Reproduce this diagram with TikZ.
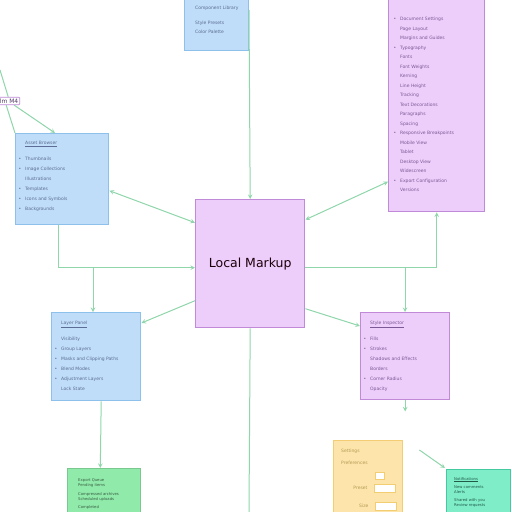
\documentclass[tikz,border=0pt]{standalone}
\usepackage{fontspec}
\setsansfont{DejaVu Sans}
\usetikzlibrary{positioning,calc}

\definecolor{bluefill}{HTML}{BFDDF8}
\definecolor{blueline}{HTML}{8EC0EC}
\definecolor{purpfill}{HTML}{EDCDF9}
\definecolor{purpline}{HTML}{C08AD8}
\definecolor{linkgreen}{HTML}{8FD6AA}
\definecolor{greenfill}{HTML}{90EAAA}
\definecolor{yelfill}{HTML}{FCE4AA}
\definecolor{yelline}{HTML}{F3CD72}
\definecolor{tealfill}{HTML}{80EDC9}
\definecolor{tealline}{HTML}{44C9A1}
\definecolor{bluetext}{HTML}{5C6C94}
\definecolor{purptext}{HTML}{7A5A96}

\tikzset{
  panel/.style={draw, line width=1.4pt, anchor=north west, inner sep=0pt},
  bluepanel/.style={panel, fill=bluefill, draw=blueline},
  purppanel/.style={panel, fill=purpfill, draw=purpline},
  link/.style={draw=linkgreen, line width=1pt, >=stealth},
  boxtext/.style={font=\sffamily\fontsize{4.5}{10}\selectfont, align=left, anchor=north west, inner sep=0pt},
}
\newcommand{\bul}{\llap{\textbullet\hspace{4pt}}}

\begin{document}
\begin{tikzpicture}[x=1pt,y=-1pt]
  \useasboundingbox[fill=white] (0,0) rectangle (512,512);

  % Panels
  \node[bluepanel, minimum width=64pt, minimum height=60pt] (top) at (184,-10) {};
  \node[purppanel, minimum width=96pt, minimum height=221pt] (rt) at (388,-10) {};
  \node[bluepanel, minimum width=93pt, minimum height=91pt] (lb) at (15,133) {};
  \node[purppanel, minimum width=109pt, minimum height=128pt] (ctr) at (195,199) {};
  \node[bluepanel, minimum width=89pt, minimum height=88pt] (lb2) at (51,312) {};
  \node[purppanel, minimum width=89pt, minimum height=87pt] (rb) at (360,312) {};
  \node[panel, fill=greenfill, draw=greenfill!85!black, line width=0.6pt, minimum width=73pt, minimum height=50pt] (gn) at (67,468) {};
  \node[panel, fill=yelfill, draw=yelline, minimum width=69pt, minimum height=80pt] (yl) at (333,440) {};
  \node[panel, fill=tealfill, draw=tealline, minimum width=64pt, minimum height=50pt] (tl) at (446,469) {};
  \node[draw=purpline, fill=white, rounded corners=1pt, line width=0.8pt, inner sep=1.5pt,
        font=\sffamily\fontsize{6}{6}\selectfont, text=purptext!70!black, anchor=west] (tag) at (-2,101) {lm M4};

  % Texts
  \node[font=\sffamily\fontsize{12.5}{14}\selectfont, text=black!85!purple] (ctrtxt) at (ctr.center) {Local Markup};
  \node[boxtext, text=bluetext] (toptxt) at (195,6) {Component Library\\[5pt]Style Presets\\[-1pt]Color Palette};
  \node[boxtext, text=purptext, font=\sffamily\fontsize{4.5}{9.5}\selectfont] (rttxt) at (400,17)
    {\bul Document Settings\\Page Layout\\Margins and Guides\\\bul Typography\\Fonts\\Font Weights\\Kerning\\Line Height\\Tracking\\Text Decorations\\Paragraphs\\Spacing\\\bul Responsive Breakpoints\\Mobile View\\Tablet\\Desktop View\\Widescreen\\\bul Export Configuration\\Versions};
  \node[boxtext, text=bluetext] (lbtxt) at (25,141) {\underline{Asset Browser}\\[6pt]\bul Thumbnails\\\bul Image Collections\\Illustrations\\\bul Templates\\\bul Icons and Symbols\\\bul Backgrounds};
  \node[boxtext, text=bluetext] (lb2txt) at (61,321) {\underline{Layer Panel}\\[6pt]Visibility\\\bul Group Layers\\\bul Masks and Clipping Paths\\\bul Blend Modes\\\bul Adjustment Layers\\Lock State};
  \node[boxtext, text=purptext] (rbtxt) at (370,321) {\underline{Style Inspector}\\[6pt]\bul Fills\\\bul Strokes\\Shadows and Effects\\Borders\\\bul Corner Radius\\Opacity};
  \node[boxtext, text=greenfill!40!black, font=\sffamily\fontsize{3.8}{5}\selectfont] (gntxt) at (78,478) {Export Queue\\Pending items\\[4pt]Compressed archives\\Scheduled uploads\\[3pt]Completed};
  \node[boxtext, text=yelline!75!black, font=\sffamily\fontsize{4.5}{10}\selectfont] (yltxt) at (341,449) {Settings\\[2pt]Preferences};
  \node[draw=yelline, fill=white, minimum width=9pt, minimum height=7pt, inner sep=0pt, anchor=north west] (ylchk) at (375,472) {};
  \node[draw=yelline, fill=white, minimum width=21pt, minimum height=8pt, inner sep=0pt, anchor=north west] (ylin1) at (374,484) {};
  \node[draw=yelline, fill=white, minimum width=21pt, minimum height=8pt, inner sep=0pt, anchor=north west] (ylin2) at (375,502) {};
  \node[font=\sffamily\fontsize{4.5}{4.5}\selectfont, text=yelline!75!black, left=3pt of ylin1.west] (ylab1) {Preset};
  \node[font=\sffamily\fontsize{4.5}{4.5}\selectfont, text=yelline!75!black, left=3pt of ylin2.west] (ylab2) {Size};
  \node[boxtext, text=tealline!45!black, font=\sffamily\fontsize{3.8}{5}\selectfont] (tltxt) at (454,477) {\underline{Notifications}\\[3pt]New comments\\Alerts\\[3pt]Shared with you\\Review requests};

  % Connectors
  \coordinate (tp) at (249,10);
  \coordinate (bt) at (249,512);
  \draw[link,->] (tp) -- (ctr.north);
  \draw[link] (ctr.south) -- (bt);
  \draw[link,<->] ([yshift=-11.5pt]lb.east) -- ([yshift=41pt]ctr.west);
  \draw[link,<->] ([yshift=44pt]ctr.east) -- ([yshift=-80.5pt]rt.west);
  \draw[link,->] ([xshift=-3.5pt]lb.south) |- ([yshift=-4pt]ctr.west);
  \coordinate (lj) at (93,267);
  \draw[link,->] (lj) -- (lj |- lb2.north);
  \draw[link,->] ([yshift=-37pt]ctr.west) -- ([yshift=-11pt]lb2.north east);
  \draw[link,->] ([yshift=-4pt]ctr.east) -| (rt.south);
  \coordinate (rj) at (405,267);
  \draw[link,->] (rj) -- (rj |- rb.north);
  \draw[link,->] ([yshift=-45pt]ctr.east) -- ([yshift=-14pt]rb.north west);
  \draw[link,->] (rb.south) -- ++(0,11);
  \draw[link,->] ([xshift=5pt]lb2.south) -- ([xshift=-3.5pt]gn.north);
  \draw[link,->] ([xshift=16pt,yshift=-10pt]yl.north east) -- ([xshift=-1pt,yshift=1pt]tl.north west);
  \coordinate (tl0) at (0,70);
  \draw[link] (tl0) -- ([xshift=-12pt]tag.north east);
  \draw[link,->] ([xshift=-6pt]tag.south east) -- ([xshift=40pt]lb.north west);
  \draw[link] ([xshift=-14pt]tag.south east) -- (lb.north west);
\end{tikzpicture}
\end{document}
